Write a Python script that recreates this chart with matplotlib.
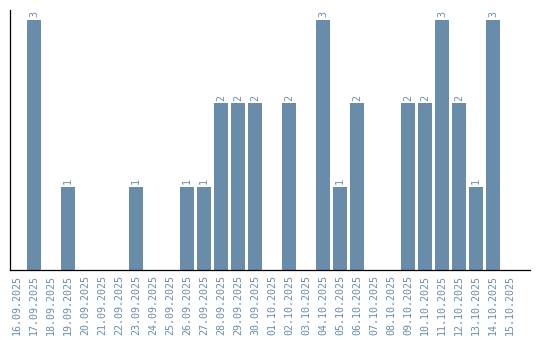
import matplotlib

matplotlib.use("Agg")
import matplotlib.pyplot as plt  # noqa: E402

dates = [
    "16.09.2025", "17.09.2025", "18.09.2025", "19.09.2025", "20.09.2025",
    "21.09.2025", "22.09.2025", "23.09.2025", "24.09.2025", "25.09.2025",
    "26.09.2025", "27.09.2025", "28.09.2025", "29.09.2025", "30.09.2025",
    "01.10.2025", "02.10.2025", "03.10.2025", "04.10.2025", "05.10.2025",
    "06.10.2025", "07.10.2025", "08.10.2025", "09.10.2025", "10.10.2025",
    "11.10.2025", "12.10.2025", "13.10.2025", "14.10.2025", "15.10.2025",
]
counts = [0, 3, 0, 1, 0, 0, 0, 1, 0, 0, 1, 1, 2, 2, 2,
          0, 2, 0, 3, 1, 2, 0, 0, 2, 2, 3, 2, 1, 3, 0]

BAR = "#6a8cab"
TEXT = "#6a8cab"

fig = plt.figure(figsize=(5.4, 3.4), dpi=100)
W, H = 540, 340
ax = fig.add_axes([10.3 / W, (H - 270) / H, (530 - 10.3) / W, 260 / H])

xs = list(range(len(dates)))
ax.bar(xs, counts, width=0.82, color=BAR)
for x, c in zip(xs, counts):
    if c > 0:
        ax.annotate(str(c), (x, c), xytext=(0, 2), textcoords="offset points",
                    rotation=90, ha="center", va="bottom", color=TEXT,
                    fontsize=7.2, family="DejaVu Sans Mono")

ax.set_xlim(-0.39, 30.18)
ax.set_ylim(0, 3.12)
ax.set_xticks(xs)
ax.set_xticklabels(dates, rotation=90, fontsize=7.2, color=TEXT,
                   family="DejaVu Sans Mono")
ax.tick_params(axis="x", length=0, pad=3.6)
ax.set_yticks([])
for side in ("top", "right"):
    ax.spines[side].set_visible(False)
for side in ("left", "bottom"):
    ax.spines[side].set_linewidth(0.9)
    ax.spines[side].set_color("black")

fig.savefig("out.png", dpi=100)
